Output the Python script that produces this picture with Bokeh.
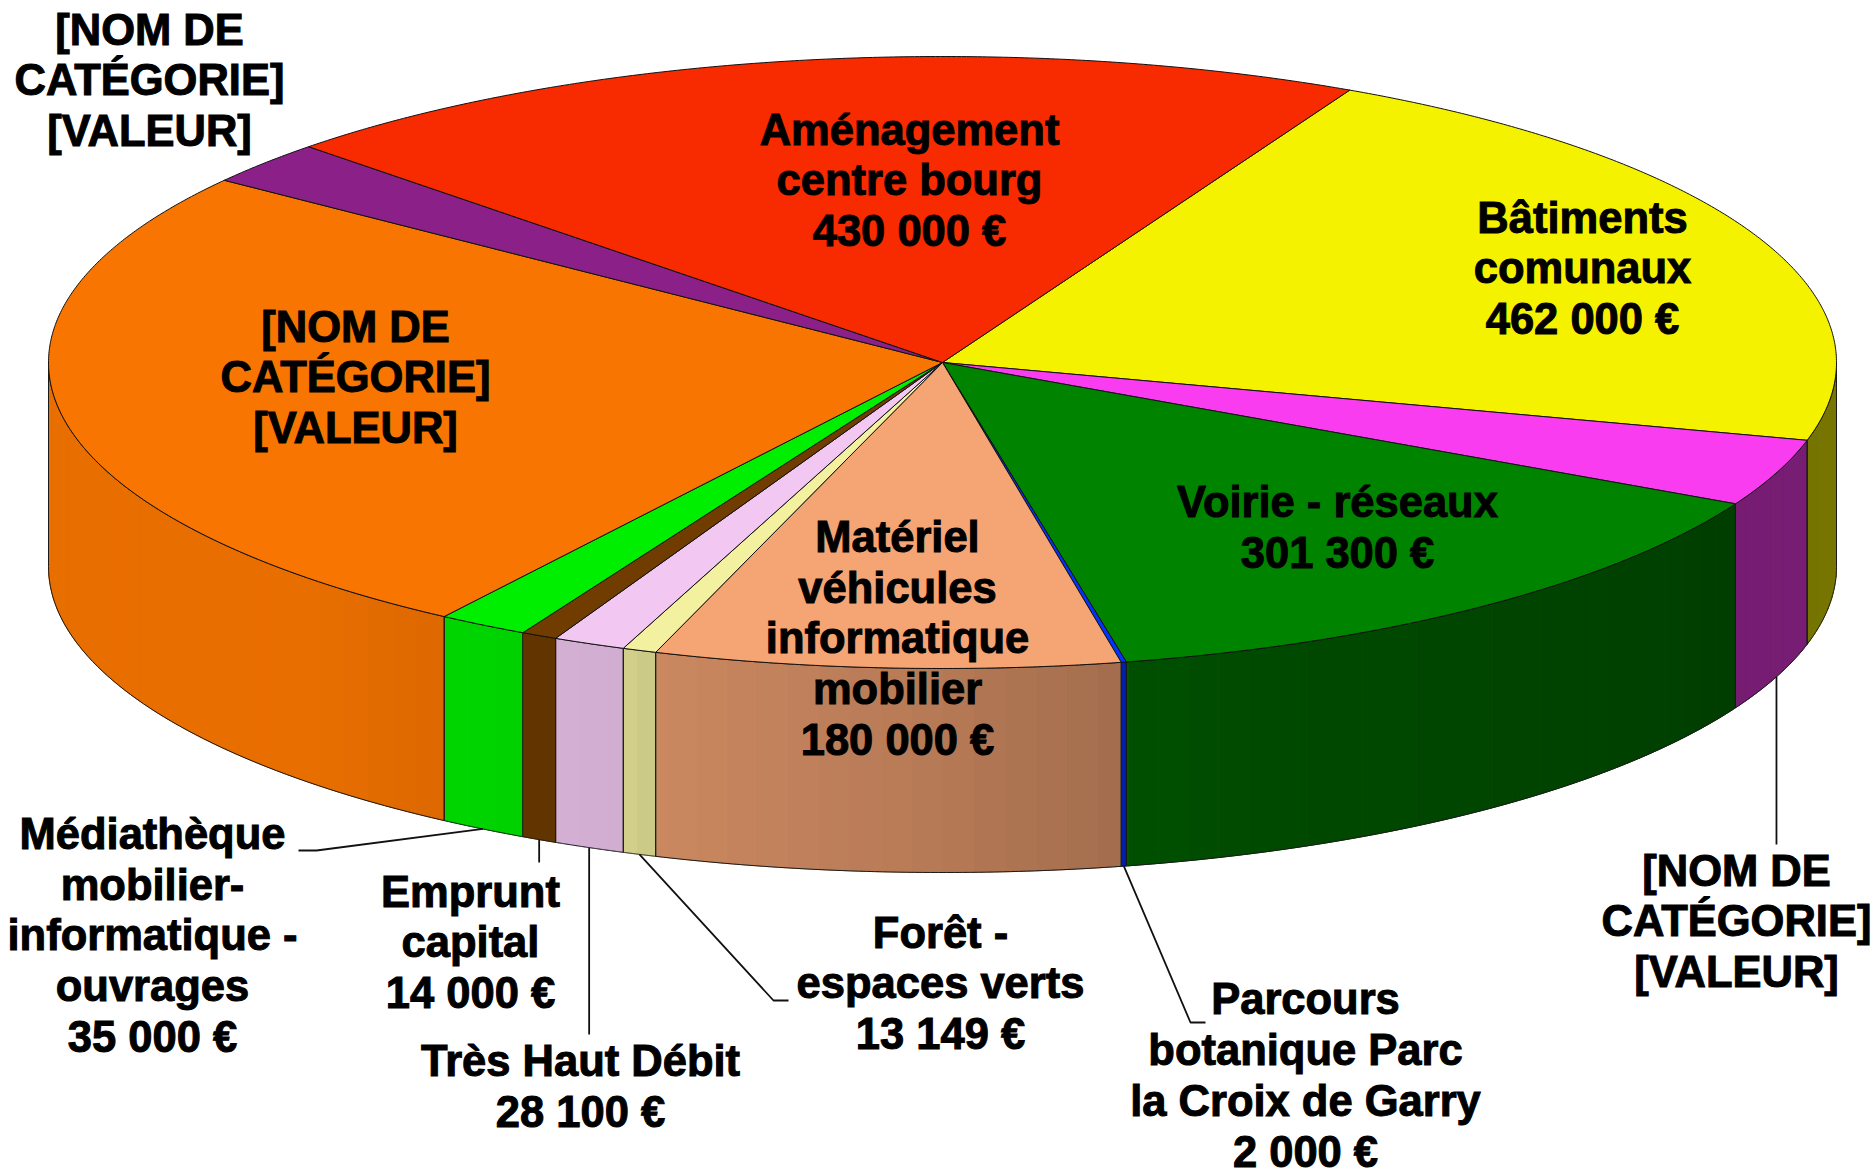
import numpy as np
from bokeh.plotting import figure
from bokeh.models import Range1d, ColumnDataSource
from bokeh.core.properties import value
from bokeh.embed import file_html
from bokeh.resources import INLINE

categories = ["Bâtiments comunaux", "[NOM DE CATÉGORIE]", "Voirie - réseaux",
              "Parcours botanique Parc la Croix de Garry",
              "Matériel véhicules informatique mobilier", "Forêt - espaces verts",
              "Très Haut Débit", "Emprunt capital",
              "Médiathèque mobilier-informatique - ouvrages",
              "[NOM DE CATÉGORIE]", "[NOM DE CATÉGORIE]", "Aménagement centre bourg"]
values = [462000, 76000, 301300, 2000, 180000, 13149, 28100, 14000, 35000, 551500, 49400, 430000]
top_colors = ["#F5F200", "#F93CF0", "#008400", "#0033FF", "#F5A474", "#F3F0A0",
              "#F2C8F2", "#703C00", "#00EE00", "#F77500", "#8A2088", "#F72A00"]
label_texts = ["Bâtiments\ncomunaux\n462 000 €", "[NOM DE\nCATÉGORIE]\n[VALEUR]",
               "Voirie - réseaux\n301 300 €", "Parcours\nbotanique Parc\nla Croix de Garry\n2 000 €",
               "Matériel\nvéhicules\ninformatique\nmobilier\n180 000 €", "Forêt -\nespaces verts\n13 149 €",
               "Très Haut Débit\n28 100 €", "Emprunt\ncapital\n14 000 €",
               "Médiathèque\nmobilier-\ninformatique -\nouvrages\n35 000 €",
               "[NOM DE\nCATÉGORIE]\n[VALEUR]", "[NOM DE\nCATÉGORIE]\n[VALEUR]",
               "Aménagement\ncentre bourg\n430 000 €"]
label_x = [1582, 1736, 1337, 1305, 897, 940, 580, 470, 152, 355, 149, 909]
label_y = [268, 921, 527, 1075, 638, 983, 1086, 942, 935, 377, 80, 180]
# leader-line elbows for the outside labels: category index -> points after the rim anchor
leader_elbows = {1: [(None, 844)], 3: [(1190, 1022), (1205, 1022)], 5: [(773, 1000), (788, 1000)],
                 6: [(None, 1034)], 7: [(None, 862)], 8: [(316, 850), (298, 850)]}

CX, CY, A, B, DEPTH = 942, 362, 894, 306, 204
START = 27.1
# side-wall brightness against the angle clockwise from the top
SH_T = [90, 120, 160, 167, 168, 180, 199, 200, 215, 225, 270]
SH_V = [.49, .47, .56, .60, .66, .74, .83, .86, .90, .94, .94]
BAND = 2.0


def rim(t, dy=0.0):
    r = np.radians(t)
    return CX + A * np.sin(r), CY - B * np.cos(r) + dy


def shaded(hex_color, t):
    k = float(np.interp(t, SH_T, SH_V))
    rgb = [int(hex_color[i:i + 2], 16) for i in (1, 3, 5)]
    return "#%02X%02X%02X" % tuple(min(255, int(round(c * k))) for c in rgb)


spans = np.array(values, dtype=float) / sum(values) * 360.0
edges = START + np.concatenate([[0], np.cumsum(spans)])

p = figure(width=1875, height=1176, x_range=Range1d(0, 1875), y_range=Range1d(1176, 0),
           output_backend="svg", toolbar_location=None, min_border=0)
p.axis.visible = False
p.grid.visible = False
p.outline_line_color = None

# side wall
bx, by, bc, ox, oy = [], [], [], [], []
for i, col in enumerate(top_colors):
    t0, t1 = [max(90, edges[i]), min(270, edges[i + 1])]
    if t1 <= t0:
        continue
    cuts = [t0] + [b for b in np.arange(90, 270 + BAND, BAND) if t0 < b < t1] + [t1]
    for a0, a1 in zip(cuts[:-1], cuts[1:]):
        ts = np.linspace(a0, a1, 4)
        x, y = rim(ts)
        x2, y2 = rim(ts[::-1], DEPTH)
        bx.append(np.r_[x, x2]); by.append(np.r_[y, y2]); bc.append(shaded(col, (a0 + a1) / 2))
    ts = np.linspace(t0, t1, 60)
    x, y = rim(ts)
    x2, y2 = rim(ts[::-1], DEPTH)
    ox.append(np.r_[x, x2]); oy.append(np.r_[y, y2])
p.patches(bx, by, fill_color=bc, line_color=bc, line_width=1)
p.patches(ox, oy, fill_color=None, line_color="#1a1a1a", line_width=1)

# top face
xs, ys = [], []
for i in range(len(values)):
    ts = np.linspace(edges[i], edges[i + 1], max(3, int(spans[i] * 3)))
    x, y = rim(ts)
    xs.append(np.r_[CX, x]); ys.append(np.r_[CY, y])
p.patches(xs, ys, fill_color=top_colors, line_color="#111111", line_width=1)

# leader lines
for i, pts in leader_elbows.items():
    ax, ay = rim((edges[i] + edges[i + 1]) / 2, DEPTH)
    lx, ly = [ax], [ay]
    for px, py in pts:
        lx.append(ax if px is None else px); ly.append(py)
    p.line(lx, ly, line_color="#111111", line_width=1.8)

src = ColumnDataSource(dict(x=label_x, y=label_y, t=label_texts))
p.text("x", "y", text="t", source=src, text_align="center", text_baseline="middle",
       text_font=value("Liberation Sans"), text_font_style="bold", text_font_size="43.5px",
       text_line_height=1.06, text_color="#000000", text_outline_color="#000000")

open("out.html", "w").write(file_html(p, INLINE))
